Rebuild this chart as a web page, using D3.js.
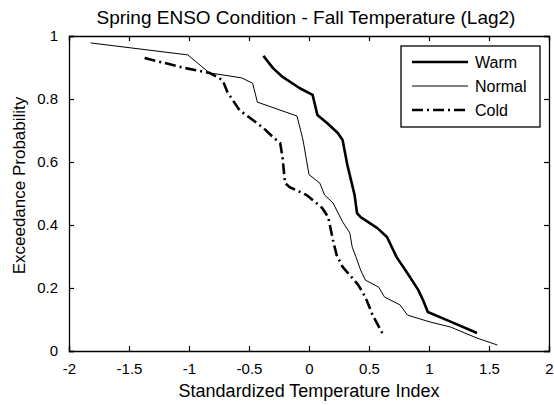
<!DOCTYPE html>
<html>
<head>
<meta charset="utf-8">
<script src="https://cdn.jsdelivr.net/npm/d3@7"></script>
<style>
  body { margin: 0; background: #fff; }
  svg text { font-family: "Liberation Sans", Arial, sans-serif; fill: #000; }
</style>
</head>
<body>
<div id="chart"></div>
<script>
var svgWidth = 554;
var svgHeight = 405;

var margin = { top: 36, right: 5, bottom: 54, left: 69 };
var width = 480;
var height = 315;

// DATA (x = standardized temperature index, y = exceedance probability)
var warmX = [-0.38, -0.30, -0.22, -0.08, 0.03, 0.07, 0.15, 0.24, 0.28, 0.32, 0.38, 0.40, 0.43, 0.57, 0.65, 0.73, 0.83, 0.91, 0.95, 0.99, 1.15, 1.40];
var warmY = [0.937, 0.898, 0.87, 0.835, 0.813, 0.749, 0.724, 0.692, 0.67, 0.59, 0.495, 0.438, 0.425, 0.39, 0.362, 0.298, 0.241, 0.194, 0.162, 0.124, 0.098, 0.057];

var normalX = [-1.82, -1.01, -0.83, -0.56, -0.47, -0.43, -0.10, -0.05, 0.00, 0.09, 0.13, 0.20, 0.28, 0.34, 0.36, 0.39, 0.43, 0.47, 0.58, 0.63, 0.76, 0.82, 1.01, 1.18, 1.40, 1.57];
var normalY = [0.978, 0.94, 0.883, 0.867, 0.85, 0.79, 0.746, 0.67, 0.56, 0.533, 0.495, 0.47, 0.41, 0.375, 0.33, 0.30, 0.257, 0.225, 0.203, 0.171, 0.146, 0.114, 0.092, 0.076, 0.041, 0.019];

var coldX = [-1.37, -1.03, -0.83, -0.72, -0.68, -0.58, -0.38, -0.30, -0.24, -0.22, -0.20, -0.16, -0.02, 0.05, 0.11, 0.16, 0.20, 0.23, 0.28, 0.36, 0.41, 0.47, 0.53, 0.61];
var coldY = [0.93, 0.898, 0.883, 0.86, 0.822, 0.765, 0.708, 0.679, 0.66, 0.613, 0.533, 0.52, 0.495, 0.473, 0.454, 0.425, 0.352, 0.305, 0.267, 0.232, 0.21, 0.171, 0.114, 0.057];

var xTicks = [-2, -1.5, -1, -0.5, 0, 0.5, 1, 1.5, 2];
var yTicks = [0, 0.2, 0.4, 0.6, 0.8, 1];

var seriesNames = ["Warm", "Normal", "Cold"];

var series = [
  { name: seriesNames[0], xs: warmX, ys: warmY, width: 2.6, dash: null },
  { name: seriesNames[1], xs: normalX, ys: normalY, width: 1, dash: null },
  { name: seriesNames[2], xs: coldX, ys: coldY, width: 2.6, dash: "11,4,2,4" }
];

var svg = d3.select("#chart")
  .append("svg")
  .attr("width", svgWidth)
  .attr("height", svgHeight);

var chartGroup = svg.append("g")
  .attr("transform", `translate(${margin.left}, ${margin.top})`);

var xScale = d3.scaleLinear().domain([-2, 2]).range([0, width]);
var yScale = d3.scaleLinear().domain([0, 1]).range([height, 0]);

// plain hyphen for negatives, like matlab
var fmt = d => String(d);

// AXES (matlab style: inward ticks on all sides)
var bottomAxis = d3.axisBottom(xScale).tickValues(xTicks).tickSize(-5).tickPadding(12).tickFormat(fmt);
var topAxis = d3.axisTop(xScale).tickValues(xTicks).tickSize(-5).tickFormat("");
var leftAxis = d3.axisLeft(yScale).tickValues(yTicks).tickSize(-5).tickPadding(11).tickFormat(fmt);
var rightAxis = d3.axisRight(yScale).tickValues(yTicks).tickSize(-5).tickFormat("");

chartGroup.append("g").attr("transform", `translate(0, ${height})`).call(bottomAxis);
chartGroup.append("g").call(topAxis);
chartGroup.append("g").call(leftAxis);
chartGroup.append("g").attr("transform", `translate(${width}, 0)`).call(rightAxis);

chartGroup.selectAll(".domain").attr("stroke", "#000").attr("stroke-width", 1.3);
chartGroup.selectAll(".tick line").attr("stroke", "#000").attr("stroke-width", 1.2);
chartGroup.selectAll(".tick text").style("font-size", "15px");

// LINES
var line = d3.line()
  .x(d => xScale(d[0]))
  .y(d => yScale(d[1]));

series.forEach(function(s) {
  var pts = s.xs.map((x, i) => [x, s.ys[i]]);
  chartGroup.append("path")
    .datum(pts)
    .attr("fill", "none")
    .attr("stroke", "#000")
    .attr("stroke-width", s.width)
    .attr("stroke-linejoin", "round")
    .attr("stroke-dasharray", s.dash)
    .attr("d", line);
});

// LEGEND
var legend = svg.append("g").attr("transform", "translate(401, 46)");
legend.append("rect")
  .attr("width", 139)
  .attr("height", 81)
  .attr("fill", "#fff")
  .attr("stroke", "#000")
  .attr("stroke-width", 1.3);

series.forEach(function(s, i) {
  var yy = 16 + i * 24;
  legend.append("line")
    .attr("x1", 11).attr("x2", 67)
    .attr("y1", yy).attr("y2", yy)
    .attr("stroke", "#000")
    .attr("stroke-width", s.width)
    .attr("stroke-dasharray", s.dash);
  legend.append("text")
    .attr("x", 74)
    .attr("y", yy + 6)
    .style("font-size", "16px")
    .text(s.name);
});

// TITLES
svg.append("text")
  .attr("x", 306)
  .attr("y", 24)
  .attr("text-anchor", "middle")
  .style("font-size", "19px")
  .text("Spring ENSO Condition - Fall Temperature (Lag2)");

svg.append("text")
  .attr("x", margin.left + width / 2)
  .attr("y", 397)
  .attr("text-anchor", "middle")
  .style("font-size", "18px")
  .text("Standardized Temperature Index");

svg.append("text")
  .attr("transform", `translate(25, ${margin.top + height / 2 - 8}) rotate(-90)`)
  .attr("text-anchor", "middle")
  .style("font-size", "17px")
  .text("Exceedance Probability");
</script>
</body>
</html>
